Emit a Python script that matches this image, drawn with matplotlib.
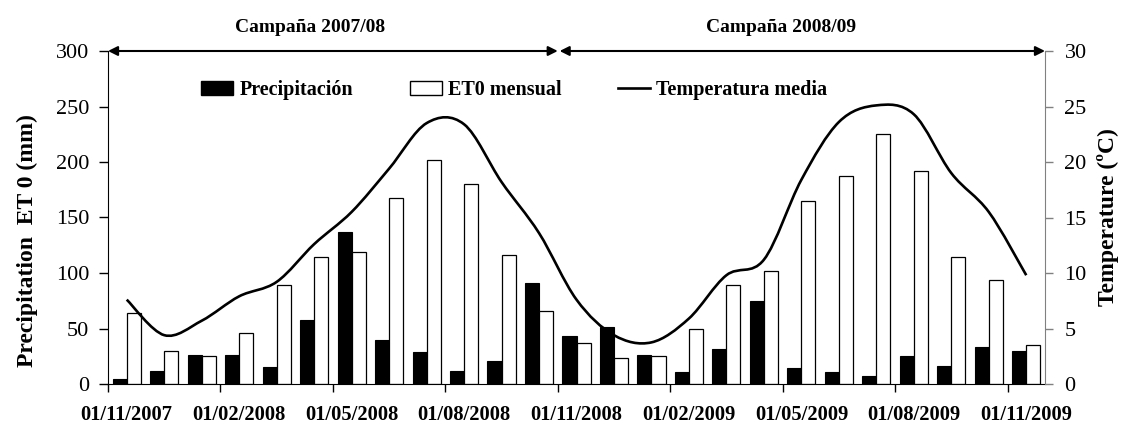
import numpy as np
import matplotlib
matplotlib.use('Agg')
import matplotlib.pyplot as plt
from matplotlib.path import Path
from matplotlib.patches import PathPatch, Patch
from matplotlib.lines import Line2D

plt.rcParams['font.family'] = ['Liberation Serif', 'DejaVu Serif']

# Données mensuelles (nov 2007 -> nov 2009)
meses = ['01/11/2007', '01/12/2007', '01/01/2008', '01/02/2008', '01/03/2008',
         '01/04/2008', '01/05/2008', '01/06/2008', '01/07/2008', '01/08/2008',
         '01/09/2008', '01/10/2008', '01/11/2008', '01/12/2008', '01/01/2009',
         '01/02/2009', '01/03/2009', '01/04/2009', '01/05/2009', '01/06/2009',
         '01/07/2009', '01/08/2009', '01/09/2009', '01/10/2009', '01/11/2009']
precipitacion = [4.8, 12, 26.4, 26.4, 15, 57.9, 137, 39.3, 29.1, 12, 21, 91.2,
                 43.5, 51.6, 26.4, 11.1, 31.8, 75, 14.7, 11, 7.5, 25.5, 16.5, 33.5, 30]
et0 = [63.9, 29.7, 25.2, 45.9, 89.1, 114.6, 118.8, 167.4, 201.6, 180, 116.1, 65.7,
       36.9, 23.4, 25.2, 49.5, 89.1, 101.7, 165, 187.5, 225.5, 192, 114.5, 94, 35.5]
temperatura = [7.6, 4.4, 5.7, 7.9, 9.2, 12.6, 15.5, 19.4, 23.5, 23.4, 18.2, 13.6,
               7.6, 4.4, 3.75, 5.9, 9.8, 11.2, 18.4, 23.6, 25.1, 24.3, 19.0, 15.5, 9.8]
campanas = ['Campaña 2007/08', 'Campaña 2008/09']

fs = 16
fig = plt.figure(figsize=(11.28, 4.25), dpi=100)
ax = fig.add_axes([108 / 1128, 1 - 384 / 425, (1045 - 108) / 1128, (384 - 51) / 425])
ax2 = ax.twinx()

n = len(meses)
x = np.arange(n)
w = 0.375
ax.bar(x - w / 2, precipitacion, w, color='black', edgecolor='black', linewidth=0.8)
ax.bar(x + w / 2, et0, w, color='white', edgecolor='black', linewidth=0.9)

ax.set_xlim(-0.5, n - 0.5)
ax.set_ylim(0, 300)
ax2.set_ylim(0, 30)

# Courbe lissée (Bezier) pour la température
pts = np.column_stack([x, temperatura]).astype(float)
verts = [tuple(pts[0])]
codes = [Path.MOVETO]
for i in range(n - 1):
    p0 = pts[max(i - 1, 0)]
    p1 = pts[i]
    p2 = pts[i + 1]
    p3 = pts[min(i + 2, n - 1)]
    verts += [tuple(p1 + (p2 - p0) / 6), tuple(p2 - (p3 - p1) / 6), tuple(p2)]
    codes += [Path.CURVE4] * 3
ax2.add_patch(PathPatch(Path(verts, codes), fill=False, edgecolor='black', lw=1.9))

# Axes
ax.set_yticks(np.arange(0, 301, 50))
ax2.set_yticks(np.arange(0, 31, 5))
ax.set_xticks(np.arange(-0.5, n, 3))
ax.set_xticklabels([])
ax.set_xticks(x[::3], minor=True)
ax.set_xticklabels(meses[::3], minor=True, fontweight='bold', fontsize=14.8)
ax.tick_params(axis='x', which='major', length=6, width=1, direction='out')
ax.tick_params(axis='x', which='minor', length=0, pad=15)
ax.tick_params(axis='y', labelsize=fs, length=6.5, width=1, direction='out', pad=7)
ax2.tick_params(axis='y', labelsize=fs, length=6, width=1, color='gray', direction='out', pad=8)

for a in (ax, ax2):
    a.spines['top'].set_visible(False)
ax2.spines['left'].set_visible(False)
ax2.spines['bottom'].set_visible(False)
ax2.spines['right'].set_color('gray')
ax.spines['right'].set_visible(False)

ax.set_ylabel('Precipitation  ET 0 (mm)', fontweight='bold', fontsize=17)
ax.yaxis.set_label_coords(-0.075, 0.43)
ax2.set_ylabel('Temperature (ºC)', fontweight='bold', fontsize=17)
ax2.yaxis.set_label_coords(1.0555, 0.5)

# Flèches des campagnes
limites = [(-0.5, 11.5), (11.55, n - 0.5)]
pos_texto = [4.9, 17.45]
for (x0, x1), xt, lab in zip(limites, pos_texto, campanas):
    ax.annotate('', xy=(x1, 300), xytext=(x0, 300), xycoords='data',
                arrowprops=dict(arrowstyle='<|-|>', color='black', lw=1.5,
                                shrinkA=0, shrinkB=0, mutation_scale=14),
                annotation_clip=False)
    ax.text(xt, 321.5, lab, ha='center', va='center',
            fontweight='bold', fontsize=14, clip_on=False)

handles = [Patch(facecolor='black', edgecolor='black'),
           Patch(facecolor='white', edgecolor='black'),
           Line2D([0], [0], color='black', lw=1.9)]
labels = ['Precipitación', 'ET0 mensual', 'Temperatura media']
leg = ax2.legend(handles, labels, loc='center left', bbox_to_anchor=(0.0888, 0.883),
                 ncol=3, frameon=False, borderpad=0, handlelength=1.6, handleheight=0.65,
                 handletextpad=0.3, columnspacing=2.8,
                 prop={'weight': 'bold', 'size': 14.5})

fig.savefig('out.png', dpi=100)
